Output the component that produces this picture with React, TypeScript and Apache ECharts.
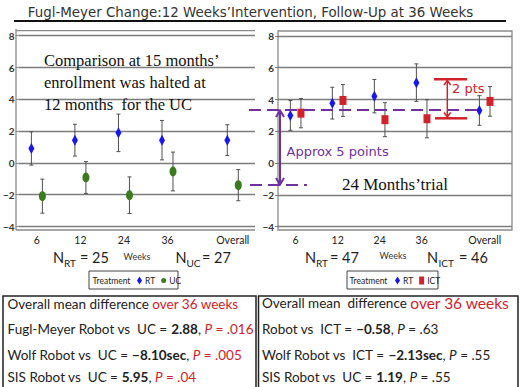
import React, { useEffect, useRef } from "react";
import * as echarts from "echarts";

const weeks = ["6", "12", "24", "36", "Overall"];
const weekPos = [1, 2, 3, 4, 5.5];

const leftRT = [0.91, 1.43, 1.89, 1.43, 1.43];
const leftRTErr = [1.05, 1.0, 1.18, 1.24, 0.97];
const leftUC = [-2.09, -0.92, -2.03, -0.54, -1.4];
const leftUCErr = [1.07, 1.0, 1.15, 1.22, 0.98];

const rightRT = [3.0, 3.77, 4.21, 5.06, 3.31];
const rightRTErr = [0.94, 1.0, 1.05, 1.18, 0.93];
const rightICT = [3.14, 3.94, 2.73, 2.79, 3.88];
const rightICTErr = [0.92, 1.0, 1.07, 1.2, 0.93];

const leftStats = [
  { label: "Fugl-Meyer Robot vs  UC = ", diff: "2.88", p: ".016" },
  { label: "Wolf Robot vs  UC = ", diff: "\u22128.10sec", p: ".005" },
  { label: "SIS Robot vs  UC = ", diff: "5.95", p: ".04" },
];
const rightStats = [
  { label: "Robot vs  ICT = ", diff: "\u22120.58", p: ".63" },
  { label: "Wolf Robot vs  ICT = ", diff: "\u22122.13sec", p: ".55" },
  { label: "SIS Robot vs  UC = ", diff: "1.19", p: ".55" },
];

const BLUE = "#1717EE";
const GREEN = "#3B7A1E";
const RED = "#D1222A";
const PURPLE = "#7030A0";
const GRID = "#7d7d7d";
const FRAME = "#8a8a8a";
const ELLIPSE = "path://M0 10A10 10 0 1 1 20 10A10 10 0 1 1 0 10Z";

function errSeries(idx: number, vals: number[], errs: number[], offset: number) {
  return {
    type: "custom",
    xAxisIndex: idx,
    yAxisIndex: idx,
    silent: true,
    z: 1,
    encode: { x: 0, y: [1, 2] },
    data: weekPos.map((p, i) => [p, vals[i] - errs[i], vals[i] + errs[i]]),
    renderItem: (params: any, api: any) => {
      const lo = api.coord([api.value(0), api.value(1)]);
      const hi = api.coord([api.value(0), api.value(2)]);
      const x = lo[0] + offset;
      const st = { stroke: "#505050", lineWidth: 1 };
      return {
        type: "group",
        children: [
          { type: "line", shape: { x1: x, y1: lo[1], x2: x, y2: hi[1] }, style: st },
          { type: "line", shape: { x1: x - 2, y1: lo[1], x2: x + 2, y2: lo[1] }, style: st },
          { type: "line", shape: { x1: x - 2, y1: hi[1], x2: x + 2, y2: hi[1] }, style: st },
        ],
      };
    },
  };
}

function pointSeries(name: string, idx: number, vals: number[], symbol: string, size: number[], color: string, offset: number) {
  return {
    type: "scatter",
    name,
    xAxisIndex: idx,
    yAxisIndex: idx,
    z: 3,
    symbol,
    symbolSize: size,
    symbolOffset: [offset, 0],
    itemStyle: { color, opacity: 1 },
    data: weekPos.map((p, i) => [p, vals[i]]),
  };
}

function xAxis(idx: number, min: number, max: number) {
  return {
    type: "value",
    gridIndex: idx,
    min,
    max,
    axisLine: { show: false },
    axisTick: { show: false },
    splitLine: { show: false },
    axisLabel: {
      customValues: weekPos,
      formatter: (v: number) => {
        const i = weekPos.indexOf(v);
        return i >= 0 ? weeks[i] : "";
      },
      margin: 8,
      color: "#222",
      fontFamily: "Lato",
      fontSize: 10.5,
    },
  };
}

function yAxis(idx: number) {
  return {
    type: "value",
    gridIndex: idx,
    min: -4,
    max: 8,
    interval: 2,
    axisLine: { show: false },
    axisTick: { show: true, length: 3, lineStyle: { color: GRID } },
    splitLine: { show: true, lineStyle: { color: GRID, width: 1.3 } },
    axisLabel: {
      margin: 4,
      color: "#333",
      fontFamily: "Lato",
      fontWeight: "bold",
      fontSize: 10,
      formatter: (v: number) => (v < 0 ? "\u2212" + -v : String(v)),
    },
  };
}

function txt(x: number, y: number, text: string, fontSize: number, opts: any = {}) {
  return {
    type: "text",
    x,
    y,
    silent: true,
    z: 10,
    style: {
      text,
      fontSize,
      fontFamily: opts.fontFamily || "Lato",
      fontWeight: opts.fontWeight || "normal",
      fill: opts.fill || "#222",
      align: opts.align || "left",
      verticalAlign: "middle",
      rich: opts.rich,
    },
  };
}

function line(x1: number, y1: number, x2: number, y2: number, stroke: string, lineWidth: number, lineDash?: number[]) {
  return {
    type: "line",
    silent: true,
    z: 9,
    shape: { x1, y1, x2, y2 },
    style: { stroke, lineWidth, lineDash },
  };
}

function chevron(pts: number[][], stroke: string, lineWidth: number) {
  return { type: "polyline", silent: true, z: 9, shape: { points: pts }, style: { stroke, lineWidth, fill: null } };
}

const tableRich = {
  a: { fontFamily: "Lato", fontSize: 13.5, fill: "#222" },
  b: { fontFamily: "Lato", fontSize: 13.5, fontWeight: "bold", fill: "#222" },
  i: { fontFamily: "Lato", fontSize: 13.5, fontStyle: "italic", fill: "#222" },
  r: { fontFamily: "Lato", fontSize: 13.5, fill: RED },
  ri: { fontFamily: "Lato", fontSize: 13.5, fontStyle: "italic", fill: RED },
  R: { fontFamily: "Lato", fontSize: 15.5, fill: RED },
};

export default function App() {
  const ref = useRef<HTMLDivElement>(null);
  useEffect(() => {
    if (!ref.current) return;
    const chart = echarts.init(ref.current, undefined, { renderer: "svg" });
    const rowsY = [328.5, 354.5, 377];
    const serif = { fontFamily: "Liberation Serif", fill: "#111" };
    const graphic: any[] = [
      // title
      txt(250.5, 12, "Fugl-Meyer Change:12 Weeks\u2019Intervention, Follow-Up at 36 Weeks", 13.4, {
        fontFamily: "DejaVu Sans",
        align: "center",
        fill: "#333",
      }),
      line(14, 21, 506, 21, "#111", 2),
      // left frame
      line(16, 30.7, 255, 30.7, FRAME, 1.3),
      line(16, 230, 255, 230, FRAME, 1.3),
      line(16, 29, 16, 230, FRAME, 1.3),
      // right frame
      { type: "rect", silent: true, z: 0, shape: { x: 278, y: 31, width: 234, height: 199 }, style: { stroke: FRAME, lineWidth: 1.3, fill: null } },
      // annotations
      txt(44, 60.7, "Comparison at 15 months\u2019", 16.5, serif),
      txt(44, 82, "enrollment was halted at", 16.5, serif),
      txt(44, 104, "12 months  for the UC", 16.5, serif),
      txt(342, 184, "24 Months\u2019trial", 17, serif),
      // purple
      line(249, 110, 478, 110, PURPLE, 2, [12, 6]),
      line(250, 185, 307, 185, PURPLE, 2, [12, 6]),
      line(280, 111, 280, 184, PURPLE, 2),
      chevron([[276, 117], [280, 110.5], [284, 117]], PURPLE, 2),
      chevron([[276, 178], [280, 184.5], [284, 178]], PURPLE, 2),
      txt(286.5, 151, "Approx 5 points", 13, { fontFamily: "DejaVu Sans", fill: PURPLE }),
      // red
      line(434, 79.3, 467, 79.3, RED, 2.5),
      line(435, 118.3, 467, 118.3, RED, 2.5),
      line(447.3, 80.5, 447.3, 117, RED, 1.5),
      chevron([[444, 85], [447.3, 80.5], [450.6, 85]], RED, 1.5),
      chevron([[444, 112.5], [447.3, 117], [450.6, 112.5]], RED, 1.5),
      txt(452, 88.3, "2 pts", 13, { fontFamily: "DejaVu Sans", fill: RED }),
      // weeks labels
      txt(137, 256, "Weeks", 9, { align: "center", fill: "#333" }),
      txt(393, 255, "Weeks", 9, { align: "center", fill: "#333" }),
      // N labels
      txt(53, 257.3, "N", 14.5),
      txt(64, 262.5, "RT", 10),
      txt(80, 257.3, "= 25", 14.5),
      txt(175.5, 257.3, "N", 14.5),
      txt(186.5, 262.5, "UC", 10),
      txt(202, 257.3, "= 27", 14.5),
      txt(305, 257.3, "N", 14.5),
      txt(316, 262.5, "RT", 10),
      txt(330, 257.3, "= 47", 14.5),
      txt(427, 257.3, "N", 14.5),
      txt(438.5, 262.5, "ICT", 10),
      txt(459, 257.3, "= 46", 14.5),
      // legend boxes
      { type: "rect", silent: true, z: 0, shape: { x: 89, y: 271, width: 89, height: 18 }, style: { stroke: "#444", lineWidth: 1, fill: "#fff" } },
      { type: "rect", silent: true, z: 0, shape: { x: 347, y: 271, width: 91, height: 18 }, style: { stroke: "#444", lineWidth: 1, fill: "#fff" } },
      txt(92.5, 280.7, "Treatment", 8.5),
      txt(349.5, 280.7, "Treatment", 8.5),
      // tables
      { type: "rect", silent: true, z: 0, shape: { x: 3, y: 296, width: 253, height: 96 }, style: { stroke: "#222", lineWidth: 1.5, fill: null } },
      { type: "rect", silent: true, z: 0, shape: { x: 258.5, y: 296, width: 259.5, height: 96 }, style: { stroke: "#222", lineWidth: 1.5, fill: null } },
      txt(7.5, 304, "{a|Overall mean difference }{r|over 36 weeks}", 13.5, { rich: tableRich }),
      txt(262, 303.3, "{a|Overall mean  difference }{R|over 36 weeks}", 13.5, { rich: tableRich }),
    ];
    leftStats.forEach((s, k) => {
      graphic.push(txt(7.5, rowsY[k], `{a|${s.label}}{b|${s.diff}}{a|, }{ri|P}{r| = ${s.p}}`, 13.5, { rich: tableRich }));
    });
    rightStats.forEach((s, k) => {
      graphic.push(txt(262, rowsY[k], `{a|${s.label}}{b|${s.diff}}{a|, }{i|P}{a| = ${s.p}}`, 13.5, { rich: tableRich }));
    });

    chart.setOption({
      animation: false,
      backgroundColor: "#fff",
      grid: [
        { left: 16, top: 35.7, width: 239, height: 190.8 },
        { left: 278, top: 35.9, width: 234, height: 190.8 },
      ],
      xAxis: [xAxis(0, 0.58, 6.01), xAxis(1, 0.58, 6.15)],
      yAxis: [yAxis(0), yAxis(1)],
      legend: [
        {
          data: ["RT", "UC"],
          left: 137,
          top: 276,
          padding: 0,
          itemWidth: 5,
          itemHeight: 8,
          itemGap: 6,
          selectedMode: false,
          textStyle: { fontFamily: "Lato", fontSize: 8.5, color: "#222", padding: [0, 0, 0, -2] },
        },
        {
          data: ["RT", "ICT"],
          left: 395,
          top: 276,
          padding: 0,
          itemWidth: 5,
          itemHeight: 8,
          itemGap: 6,
          selectedMode: false,
          textStyle: { fontFamily: "Lato", fontSize: 8.5, color: "#222", padding: [0, 0, 0, -2] },
        },
      ],
      graphic,
      series: [
        errSeries(0, leftRT, leftRTErr, -5.5),
        errSeries(0, leftUC, leftUCErr, 5.5),
        errSeries(1, rightRT, rightRTErr, -5.3),
        errSeries(1, rightICT, rightICTErr, 5.3),
        pointSeries("RT", 0, leftRT, "diamond", [6, 11], BLUE, -5.5),
        pointSeries("UC", 0, leftUC, ELLIPSE, [7, 10], GREEN, 5.5),
        pointSeries("RT", 1, rightRT, "diamond", [6, 11], BLUE, -5.3),
        pointSeries("ICT", 1, rightICT, "rect", [7, 9], RED, 5.3),
      ],
    });
    return () => chart.dispose();
  }, []);
  return (
    <div
      ref={ref}
      style={{ position: "fixed", left: 0, top: 0, width: 521, height: 387, background: "#fff" }}
    />
  );
}
